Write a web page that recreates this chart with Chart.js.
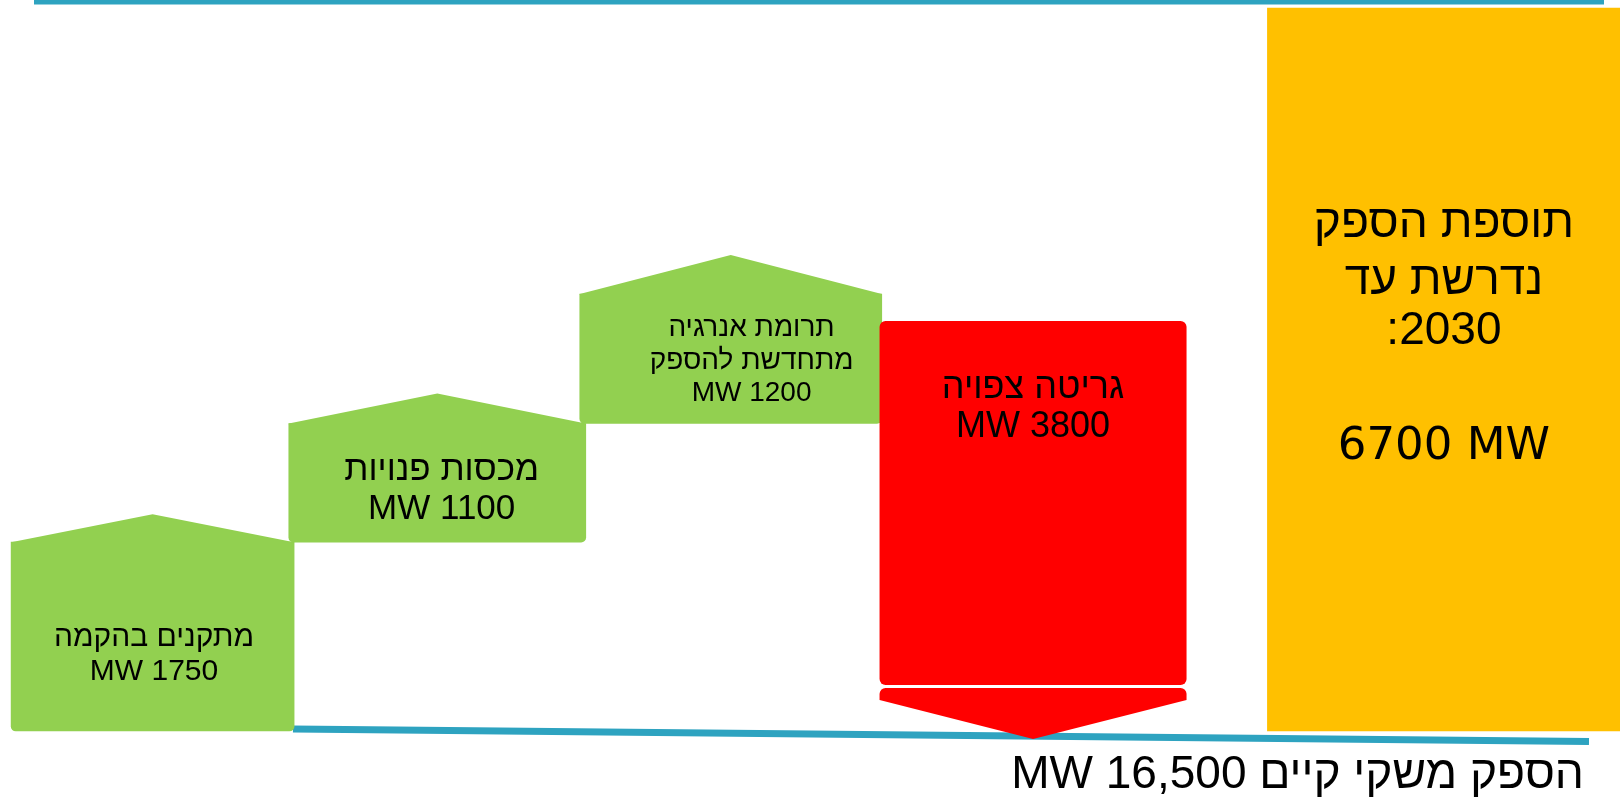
<!DOCTYPE html>
<html lang="he">
<head>
<meta charset="utf-8">
<title>תוספת הספק נדרשת עד 2030</title>
<script src="https://cdn.jsdelivr.net/npm/chart.js@4.4.1/dist/chart.umd.min.js"></script>
<style>
  html, body { margin: 0; padding: 0; background: #fff; }
  #wrap { width: 1620px; height: 799px; position: relative; }
</style>
</head>
<body>
<div id="wrap"><canvas id="capacityChart"></canvas></div>
<script>
// steps of the chart, left to right
const categories = ['מתקנים בהקמה', 'מכסות פנויות', 'תרומת אנרגיה מתחדשת להספק', 'גריטה צפויה', 'תוספת הספק נדרשת עד 2030'];
// each step as a floating bar, from -> to (MW)
const stepFrom = [0, 1750, 2850, 0, 0];
const stepTo = [1750, 2850, 4050, 3800, 6700];
// text inside each block, line by line
const blockLines = [
  ['מתקנים בהקמה', 'MW 1750'],
  ['מכסות פנויות', 'MW 1100'],
  ['תרומת אנרגיה', 'מתחדשת להספק', 'MW 1200'],
  ['גריטה צפויה', 'MW 3800'],
  ['תוספת הספק', 'נדרשת עד', ':2030', '', '6700 MW']
];
const baseNote = 'הספק משקי קיים MW 16,500';

// look & placement
const slot = [0, 0.97, 1.97, 3, 4.4];
const blockWidth = [283, 297, 302, 307, 353];
const blockColor = ['#92D050', '#92D050', '#92D050', '#FF0000', '#FFC000'];
const roofHeight = [28, 30, 39, 0, 0];
const teal = '#2EA3C0';
const arial = '"Liberation Sans", Arial, sans-serif';
const dejavu = '"DejaVu Sans", sans-serif';
const textStyle = [
  { font: '30px ' + arial, dx: 1.4, rows: [95.8, 129.8] },
  { font: '35px ' + arial, dx: 4.4, rows: [46.5, 86.2] },
  { font: '28px ' + arial, dx: 20.8, rows: [34.3, 67.7, 99.3] },
  { font: '36px ' + arial, dx: 0, rows: [67, 106] },
  { font: '46px ' + arial, dx: 0, rows: [216, 273.7, 323.7, 0, 439], last: '45px ' + dejavu }
];
const ARROW = 3; // index of the red block

function roundTop(c, left, top, right, bottom, r) {
  c.moveTo(left, bottom);
  c.lineTo(left, top + r);
  c.arcTo(left, top, left + r, top, r);
  c.lineTo(right - r, top);
  c.arcTo(right, top, right, top + r, r);
  c.lineTo(right, bottom);
}

const blockDecor = {
  id: 'blockDecor',
  beforeDatasetsDraw(chart) {
    const c = chart.ctx;
    const y0 = chart.scales.y.getPixelForValue(0);
    c.save();
    c.strokeStyle = teal;
    c.lineWidth = 5;
    c.beginPath(); c.moveTo(34, 2); c.lineTo(1604, 2); c.stroke();
    c.lineWidth = 7;
    c.beginPath(); c.moveTo(293, y0 - 2); c.lineTo(1589, y0 + 10.5); c.stroke();
    c.restore();
  },
  beforeDatasetDraw(chart, args) {
    if (args.index !== ARROW) return;
    const c = chart.ctx;
    const el = args.meta.data[0];
    const left = el.x - el.width / 2, right = el.x + el.width / 2;
    const bodyBottom = el.base - 46, headTop = el.base - 43, shoulder = el.base - 31, tip = el.base + 8;
    const r = 6;
    c.save();
    c.fillStyle = blockColor[ARROW];
    c.beginPath();
    roundTop(c, left, el.y, right, bodyBottom - r, r);
    c.arcTo(right, bodyBottom, right - r, bodyBottom, r);
    c.lineTo(left + r, bodyBottom);
    c.arcTo(left, bodyBottom, left, bodyBottom - r, r);
    c.closePath();
    c.fill();
    c.beginPath();
    roundTop(c, left, headTop, right, shoulder, r);
    c.lineTo(el.x, tip);
    c.closePath();
    c.fill();
    c.restore();
    return false;
  },
  afterDatasetDraw(chart, args) {
    const h = roofHeight[args.index];
    if (!h) return;
    const c = chart.ctx;
    const el = args.meta.data[0];
    const left = el.x - el.width / 2, right = el.x + el.width / 2;
    c.save();
    c.fillStyle = blockColor[args.index];
    c.beginPath();
    c.moveTo(left, el.y + 1);
    c.lineTo(left, el.y);
    c.lineTo(el.x, el.y - h);
    c.lineTo(right, el.y);
    c.lineTo(right, el.y + 1);
    c.closePath();
    c.fill();
    c.restore();
  },
  afterDraw(chart) {
    const c = chart.ctx;
    c.save();
    c.fillStyle = '#000';
    c.textAlign = 'center';
    c.textBaseline = 'middle';
    blockLines.forEach((lines, i) => {
      const el = chart.getDatasetMeta(i).data[0];
      const st = textStyle[i];
      lines.forEach((t, k) => {
        if (!t) return;
        c.font = (st.last && k === lines.length - 1) ? st.last : st.font;
        c.fillText(t, el.x + st.dx, el.y + st.rows[k]);
      });
    });
    c.direction = 'rtl';
    c.textAlign = 'right';
    c.textBaseline = 'alphabetic';
    c.font = '46px ' + arial;
    c.fillText(baseNote, 1584, 788);
    c.restore();
  }
};

const datasets = categories.map((name, i) => ({
  label: name,
  data: [{ x: slot[i], y: [stepFrom[i], stepTo[i]] }],
  backgroundColor: blockColor[i],
  barThickness: blockWidth[i],
  skipNull: true,
  borderWidth: 0,
  borderSkipped: false,
  borderRadius: i === 4 ? 0 : { topLeft: 0, topRight: 0, bottomLeft: 5, bottomRight: 5 },
  order: categories.length - i
}));

new Chart(document.getElementById('capacityChart'), {
  type: 'bar',
  data: { datasets: datasets },
  options: {
    responsive: true,
    maintainAspectRatio: false,
    animation: false,
    events: [],
    layout: { padding: 0 },
    scales: {
      x: { type: 'linear', min: -0.52, max: 5.0, offset: false, display: false },
      y: { min: -630, max: 6774, display: false }
    },
    plugins: {
      legend: { display: false },
      tooltip: { enabled: false }
    }
  },
  plugins: [blockDecor]
});
</script>
</body>
</html>
